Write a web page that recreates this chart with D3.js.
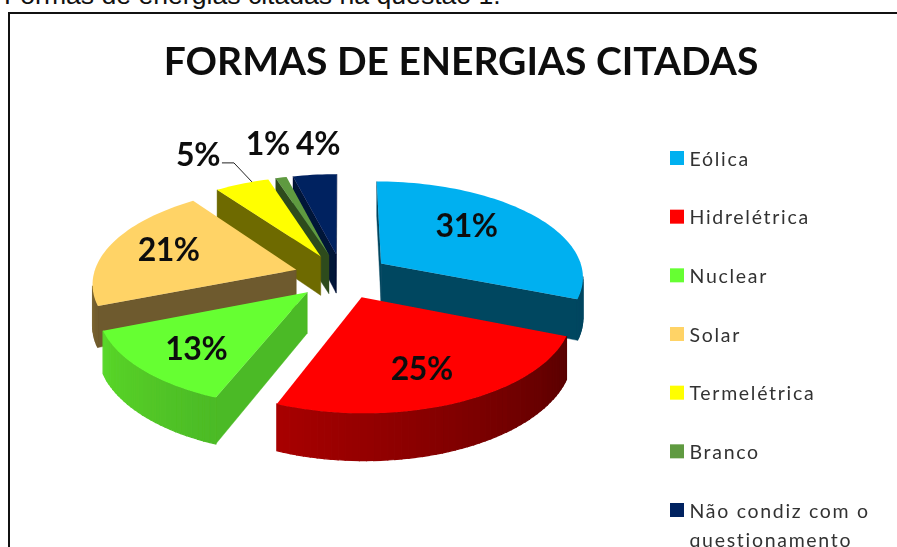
<!DOCTYPE html>
<html><head><meta charset="utf-8">
<style>html,body{margin:0;padding:0;background:#fff;overflow:hidden}svg{display:block}</style>
<script src="https://cdn.jsdelivr.net/npm/d3@7"></script></head><body>
<script>
const categories = ["Eólica","Hidrelétrica","Nuclear","Solar","Termelétrica","Branco","Não condiz com o questionamento"];
const values = [31,25,13,21,5,1,4];
const topColors = ["#00B0F0","#FF0000","#66FF33","#FFD366","#FFFF00","#5F9A3F","#002060"];
const wallLight = ["#004660","#A80000","#5AD82A","#C9A24F","#6E6A00","#2E4C1E","#001238"];
const wallDark = ["#004660","#580000","#4CBA25","#6E5A2D","#6E6A00","#2E4C1E","#001238"];
const title = "FORMAS DE ENERGIAS CITADAS";
const caption = "Formas de energias citadas na questão 1.";

const W=897,H=547;
const cx=342,cy=276,R=203,explode=48,tilt=0.47,focal=1600,depth=40;
const labelRadius=[0.6,0.66,0.7,0.66,1.0,1.2,1.37];
const labelNudge=[[-8,-9],[-1,4],[1,3],[-4,-4],[-44,-30],[-5,-21],[10,-7]];

const svg=d3.select("body").append("svg").attr("width",W).attr("height",H);
const defs=svg.append("defs");
defs.append("filter").attr("id","soft").attr("x","-5%").attr("y","-5%").attr("width","110%").attr("height","110%")
  .append("feGaussianBlur").attr("stdDeviation",0.45);
svg.append("text").attr("x",4).attr("y",4).attr("font-family","Liberation Sans").attr("font-size",26.6).attr("fill","#111").text(caption);
svg.append("rect").attr("x",9).attr("y",13).attr("width",W+20).attr("height",H).attr("fill","#fff").attr("stroke","#111").attr("stroke-width",2);
const chart=svg.append("g").attr("filter","url(#soft)");
chart.append("text").attr("x",461).attr("y",75).attr("text-anchor","middle").attr("font-family","Lato").attr("font-weight",700).attr("font-size",39).attr("fill","#111").text(title);

function project(X,Y,z){const s=focal/(focal+Y);return [cx+X*s,cy-Y*tilt*s+z*s];}
const pie=d3.pie().sort(null).value(d=>d)(values);
const slices=pie.map((p,i)=>{
  const mid=(p.startAngle+p.endAngle)/2;
  return {i,start:p.startAngle,end:p.endAngle,mid,ox:Math.sin(mid)*explode,oy:Math.cos(mid)*explode};
}).sort((a,b)=>Math.cos(b.mid)-Math.cos(a.mid));
const rim=(s,a,r=R,z=0)=>project(s.ox+Math.sin(a)*r,s.oy+Math.cos(a)*r,z);
const line=d3.line();
const g=chart.append("g");
slices.forEach(s=>{
  const tip=rim(s,0,0), tipB=rim(s,0,0,depth);
  const n=Math.max(2,Math.ceil((s.end-s.start)/0.03));
  const angles=d3.range(n+1).map(d3.scaleLinear().domain([0,n]).range([s.start,s.end]));
  const shade=d3.scaleLinear().domain([s.end,s.start]).range([wallLight[s.i],wallDark[s.i]]);
  for(let k=0;k<n;k++){
    const a=angles[k],b=angles[k+1],p=rim(s,a),q=rim(s,b);
    if(q[0]<p[0]){
      const c=shade((a+b)/2);
      g.append("path").attr("d",line([p,q,rim(s,b,R,depth),rim(s,a,R,depth)])+"Z").attr("fill",c).attr("stroke",c).attr("stroke-width",1.2);
    }
  }
  const walls=[[tip,rim(s,s.start),rim(s,s.start,R,depth),tipB],[rim(s,s.end),tip,tipB,rim(s,s.end,R,depth)]];
  walls.forEach(w=>{
    if(w[1][0]<w[0][0]) g.append("path").attr("d",line(w)+"Z").attr("fill",wallDark[s.i]).attr("stroke",wallDark[s.i]).attr("stroke-width",.4);
  });
  const top=[tip,...angles.map(a=>rim(s,a))];
  g.append("path").attr("d",line(top)+"Z").attr("fill",topColors[s.i]);
});
const term=slices.find(s=>s.i===4);
const anchor=rim(term,term.mid+0.06);
chart.append("path").attr("d",line([[anchor[0]-30,anchor[1]-19],[anchor[0]-18,anchor[1]-19],anchor])).attr("fill","none").attr("stroke","#222").attr("stroke-width",1);
slices.forEach(s=>{
  const p=rim(s,s.mid,R*labelRadius[s.i]);
  chart.append("text").attr("x",p[0]+labelNudge[s.i][0]).attr("y",p[1]+labelNudge[s.i][1]).attr("text-anchor","middle").attr("dominant-baseline","central")
   .attr("font-family","Lato").attr("font-weight",700).attr("font-size",32).attr("letter-spacing",-0.5).attr("fill","#111").text(values[s.i]+"%");
});
const ly=d3.scalePoint().domain(categories).range([158,510]);
const legend=chart.append("g").selectAll("g").data(categories).join("g").attr("transform",d=>`translate(670,${ly(d)})`);
legend.append("rect").attr("x",0).attr("y",-7).attr("width",14).attr("height",14).attr("fill",(d,i)=>topColors[i]);
const wrapped=d=>d.length>20?["Não condiz com o","questionamento"]:[d];
legend.each(function(d){
  wrapped(d).forEach((t,j)=>d3.select(this).append("text").attr("x",19.5).attr("y",j*29).attr("dominant-baseline","central")
    .attr("font-family","Lato").attr("font-size",19.5).attr("letter-spacing",1.7).attr("fill","#333").text(t));
});
</script></body></html>
